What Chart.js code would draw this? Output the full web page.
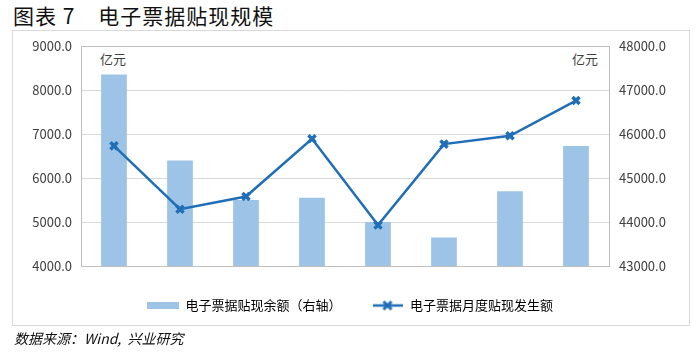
<!DOCTYPE html>
<html>
<head>
<meta charset="utf-8">
<script src="https://cdn.jsdelivr.net/npm/chart.js@4.4.0/dist/chart.umd.min.js"></script>
<style>
  body { margin: 0; width: 700px; height: 357px; background: #fff; position: relative; overflow: hidden;
         font-family: "Noto Sans CJK SC", sans-serif; }
  #title { position: absolute; left: 13px; top: 0px; font-size: 21px; color: #111; white-space: pre; letter-spacing: 1px; }
  #frame { position: absolute; left: 12px; top: 30px; width: 676px; height: 294px; border: 1px solid #D9D9D9; }
  #src { position: absolute; left: 14px; top: 328px; font-size: 14px; font-style: italic; color: #111; white-space: pre; }
  .unit { position: absolute; top: 49px; font-size: 13px; color: #404040; }
  #chart { position: absolute; left: 0; top: 0; }
</style>
</head>
<body>
<div id="title">图表 7    电子票据贴现规模</div>
<div id="frame"></div>
<div class="unit" style="left:100px">亿元</div>
<div class="unit" style="left:572px">亿元</div>
<canvas id="chart" width="700" height="357"></canvas>
<div id="src">数据来源：Wind,  兴业研究</div>
<script>
// categorias e séries
const categories = ["2017/06", "2017/07", "2017/08", "2017/09", "2017/10", "2017/11", "2017/12", "2018/01"];
const balance = [47350, 45400, 44500, 44550, 44000, 43650, 44700, 45730];   // 余额, eixo direito
const monthly = [6730, 5290, 5580, 6890, 4930, 6770, 6960, 7760];          // 月度发生额, eixo esquerdo
const leftTicks = [4000, 5000, 6000, 7000, 8000, 9000];
const rightTicks = [43000, 44000, 45000, 46000, 47000, 48000];

const barName = "电子票据贴现余额（右轴）";
const lineName = "电子票据月度贴现发生额";
const barColor = "#9DC3E6";
const lineColor = "#1F6EB6";

// ícones da legenda
function barIcon() {
  const c = document.createElement("canvas");
  c.width = 32; c.height = 7;
  const g = c.getContext("2d");
  g.fillStyle = barColor;
  g.fillRect(0, 0, 32, 7);
  return c;
}
function lineIcon() {
  const c = document.createElement("canvas");
  c.width = 30; c.height = 12;
  const g = c.getContext("2d");
  g.strokeStyle = lineColor;
  g.lineWidth = 2.5;
  g.beginPath(); g.moveTo(0, 6); g.lineTo(30, 6); g.stroke();
  g.lineWidth = 3;
  g.beginPath(); g.moveTo(11, 2); g.lineTo(19, 10); g.moveTo(19, 2); g.lineTo(11, 10); g.stroke();
  return c;
}

const ctx = document.getElementById("chart");
new Chart(ctx, {
  data: {
    labels: categories,
    datasets: [
      {
        type: "line",
        label: lineName,
        data: monthly,
        yAxisID: "y",
        borderColor: lineColor,
        backgroundColor: lineColor,
        borderWidth: 2.5,
        pointStyle: "crossRot",
        pointRadius: 5,
        pointBorderWidth: 3.5,
        tension: 0,
        order: 1
      },
      {
        type: "bar",
        label: barName,
        data: balance,
        yAxisID: "y1",
        backgroundColor: barColor,
        barPercentage: 0.39,
        categoryPercentage: 1,
        order: 2
      }
    ]
  },
  options: {
    responsive: false,
    animation: false,
    layout: { padding: { top: 46, left: 0, right: 0, bottom: 35 } },
    plugins: {
      tooltip: { enabled: false },
      legend: {
        position: "bottom",
        labels: {
          usePointStyle: true,
          pointStyleWidth: 32,
          padding: 30,
          color: "#262626",
          font: { family: "Noto Sans CJK SC", size: 13 },
          generateLabels: () => [
            { text: barName, pointStyle: barIcon(), fillStyle: barColor, strokeStyle: barColor, lineWidth: 0, hidden: false, datasetIndex: 1 },
            { text: lineName, pointStyle: lineIcon(), fillStyle: lineColor, strokeStyle: lineColor, lineWidth: 0, hidden: false, datasetIndex: 0 }
          ]
        }
      }
    },
    scales: {
      x: {
        grid: { display: false },
        border: { color: "#BFBFBF" },
        ticks: { color: "#595959", font: { family: "Noto Sans CJK SC", size: 12 }, padding: 4, maxRotation: 0 },
        afterFit: (s) => { s.height = 3; }
      },
      y: {
        position: "left",
        min: leftTicks[0],
        max: leftTicks[leftTicks.length - 1],
        afterBuildTicks: (s) => { s.ticks = leftTicks.map(v => ({ value: v })); },
        grid: {
          color: (c) => c.tick && c.tick.value === 9000 ? "#BFBFBF" : "#D9D9D9",
          drawTicks: false
        },
        border: { color: "#BFBFBF" },
        ticks: { color: "#404040", font: { family: "Noto Sans CJK SC", size: 13 }, padding: 9,
                 callback: (v) => v.toFixed(1) },
        afterFit: (s) => { s.width = 81; }
      },
      y1: {
        position: "right",
        min: rightTicks[0],
        max: rightTicks[rightTicks.length - 1],
        afterBuildTicks: (s) => { s.ticks = rightTicks.map(v => ({ value: v })); },
        grid: { display: false, drawTicks: false },
        border: { color: "#BFBFBF" },
        ticks: { color: "#404040", font: { family: "Noto Sans CJK SC", size: 13 }, padding: 10,
                 callback: (v) => v.toFixed(1) },
        afterFit: (s) => { s.width = 91; }
      }
    }
  }
});
</script>
</body>
</html>
